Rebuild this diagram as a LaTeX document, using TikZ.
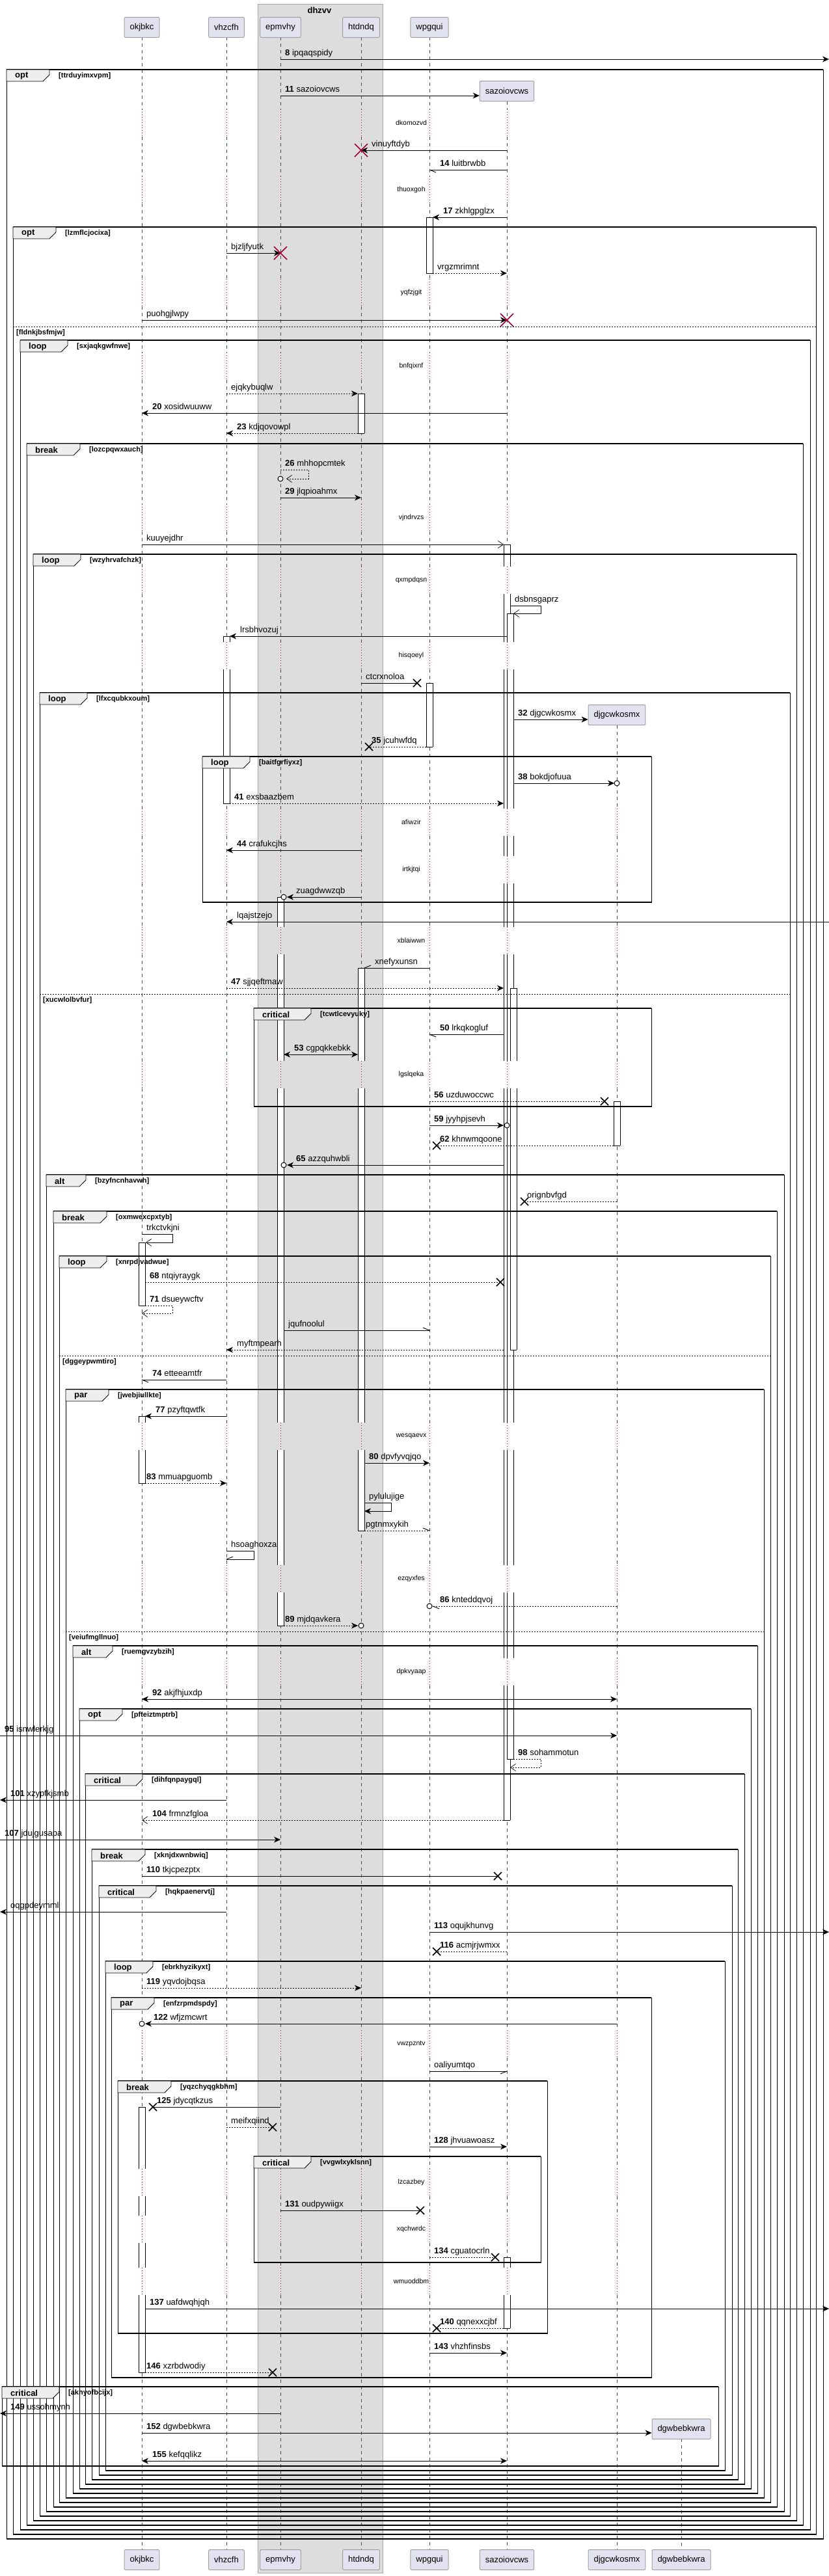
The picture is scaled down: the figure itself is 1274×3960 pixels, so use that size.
\documentclass[tikz,border=0pt]{standalone}
\usepackage{fontspec}
\setmainfont{Liberation Sans}
\usetikzlibrary{arrows.meta}

\definecolor{partfill}{HTML}{E2E2F0}
\definecolor{partline}{HTML}{A0A0A0}
\definecolor{plred}{HTML}{A80036}
\definecolor{boxbg}{HTML}{DDDDDD}
\definecolor{tabbg}{HTML}{EEEEEE}

\newcommand{\msgfont}{\fontsize{13}{15}\selectfont}
\newcommand{\dlyfont}{\fontsize{10.5}{12}\selectfont}
\newcommand{\grdfont}{\fontsize{11}{13}\selectfont\bfseries}

\tikzset{
  part/.style={draw=partline, fill=partfill, line width=1pt, rounded corners=2pt,
    minimum height=31pt, inner xsep=8.5pt, inner ysep=0pt, font=\msgfont},
  life/.style={draw=gray!60!black, line width=0.5pt, dash pattern=on 5pt off 5pt},
  dly/.style={draw=plred, line width=0.6pt, dash pattern=on 1pt off 3pt},
  call/.style={line width=0.9pt, -{Stealth[length=10pt,width=9pt,inset=3pt]}},
  reply/.style={call, dash pattern=on 2pt off 2pt},
  callo/.style={line width=0.9pt, -{Straight Barb[length=8pt,width=11pt,line width=0.7pt]}},
  replyo/.style={callo, dash pattern=on 2pt off 2pt},
  plain/.style={line width=0.9pt},
  plaind/.style={plain, dash pattern=on 2pt off 2pt},
  twoway/.style={line width=0.9pt, {Stealth[length=10pt,width=9pt,inset=3pt]}-{Stealth[length=10pt,width=9pt,inset=3pt]}},
  barb/.style={line width=0.9pt},
  endo/.style={line width=1pt, fill=white},
  actln/.style={line width=0.8pt},
  lbl/.style={anchor=base west, inner sep=0pt, font=\msgfont, xshift=7pt, yshift=6pt},
  lbb/.style={anchor=base west, inner sep=0pt, font=\msgfont, xshift=16pt, yshift=6pt},
  dlytxt/.style={font=\dlyfont, inner sep=0pt},
  grpline/.style={line width=0.9pt},
  grptop/.style={line width=2pt},
  grpbot/.style={line width=1.4pt},
  grptab/.style={fill=tabbg, draw=black, line width=0.9pt},
  grpkw/.style={anchor=west, inner sep=0pt, font=\msgfont\bfseries},
  grdtxt/.style={anchor=west, inner sep=0pt, font=\grdfont},
  elseln/.style={line width=0.9pt, dash pattern=on 2pt off 2pt},
  lostx/.pic={\draw[line width=1.5pt] (-6,-6) -- (6,6) (-6,6) -- (6,-6);},
  killx/.pic={\draw[plred, line width=1.5pt] (-10,-10) -- (10,10) (-10,10) -- (10,-10);},
}

% group frame: left, top, right, bottom, keyword, guard, tab width
\newcommand{\grp}[7]{%
  \draw[grpline] (#1,#2) rectangle (#3,#4);
  \draw[grptop] (#1,#2) -- (#3,#2);
  \draw[grpbot] (#1,#4) -- (#3,#4);
  \filldraw[grptab] (#1,#2) -- (#1+#7,#2) -- (#1+#7,#2+8) -- (#1+#7-10,#2+18) -- (#1,#2+18) -- cycle;
  \node[grpkw] (k-#6) at (#1+13,#2+10) {#5};
  \node[grdtxt] (g-#6) at (#1+#7+14,#2+10) {[#6]};
}
% else line: left, right, y, guard
\newcommand{\grpelse}[4]{%
  \draw[elseln] (#1,#3) -- (#2,#3);
  \node[grdtxt] (g-#4) at (#1+5,#3+10) {[#4]};
}
% activation piece: x, from, to
\newcommand{\actseg}[3]{%
  \fill[white] (#1-5,#2) rectangle (#1+5,#3);
  \draw[actln] (#1-5,#2) -- (#1-5,#3) (#1+5,#2) -- (#1+5,#3);
}
\newcommand{\actcap}[2]{\draw[actln] (#1-5,#2) -- (#1+5,#2);}

\begin{document}
\begin{tikzpicture}[x=1pt, y=-1pt]
\useasboundingbox (0,0) rectangle (1274,3960);

\coordinate (lft) at (0,0);
\coordinate (rgt) at (1274,0);
\coordinate (O) at (218,0);
\coordinate (V) at (348,0);
\coordinate (E) at (431,0);
\coordinate (H) at (555,0);
\coordinate (W) at (660,0);
\coordinate (S) at (779,0);
\coordinate (D) at (948,0);
\coordinate (G) at (1047,0);

% box dhzvv
\filldraw[fill=boxbg, draw=gray!70, line width=0.5pt] (396,6) rectangle (588,3955);
\node[font=\msgfont\bfseries] (dhzvv) at (491,16) {dhzvv};

% lifelines
\foreach \a/\b in {57/168, 210/271, 313/429, 471/542, 584/775, 817/871, 913/987, 1029/1243}{
  \foreach \p in {O,V,E,H,W} \draw[life] (\p |- 0,\a) -- (\p |- 0,\b);
}
\foreach \a/\b in {156/168, 210/271, 313/429, 471/542, 584/775, 817/871, 913/987, 1029/1243}
  \draw[life] (S |- 0,\a) -- (S |- 0,\b);
\draw[life] (D |- 0,1115) -- (D |- 0,1243);
\foreach \a/\b in {1285/1316, 1358/1425, 1467/1631, 1673/2187, 2229/2406, 2448/2549, 2591/3121, 3163/3334, 3376/3406, 3448/3486, 3528/3920}{
  \foreach \p in {O,V,E,H,W,S,D} \draw[life] (\p |- 0,\a) -- (\p |- 0,\b);
}
\draw[life] (G |- 0,3749) -- (G |- 0,3920);

% delays
\foreach \d in {189,292,450,563,796,892,1008}{
  \foreach \p in {O,V,E,H,W,S} \draw[dly] (\p |- 0,\d-21) -- (\p |- 0,\d+21);
}
\foreach \d in {1264,1337,1446,1652,2208,2427,2570,3142,3355,3427,3507}{
  \foreach \p in {O,V,E,H,W,S,D} \draw[dly] (\p |- 0,\d-21) -- (\p |- 0,\d+21);
}

% participants
\node[part] (pO) at (O |- 0,42) {okjbkc};
\node[part] (pV) at (V |- 0,42) {vhzcfh};
\node[part] (pE) at (E |- 0,42) {epmvhy};
\node[part] (pH) at (H |- 0,42) {htdndq};
\node[part] (pW) at (W |- 0,42) {wpgqui};
\node[part] (cS) at (S |- 0,140) {sazoiovcws};
\node[part] (cD) at (D |- 0,1099) {djgcwkosmx};
\node[part] (cG) at (G |- 0,3734) {dgwbebkwra};
\node[part] (qO) at (O |- 0,3935) {okjbkc};
\node[part] (qV) at (V |- 0,3935) {vhzcfh};
\node[part] (qE) at (E |- 0,3935) {epmvhy};
\node[part] (qH) at (H |- 0,3935) {htdndq};
\node[part] (qW) at (W |- 0,3935) {wpgqui};
\node[part] (qS) at (S |- 0,3935) {sazoiovcws};
\node[part] (qD) at (D |- 0,3935) {djgcwkosmx};
\node[part] (qG) at (G |- 0,3935) {dgwbebkwra};

% activations
\actseg{660}{334}{420} \actcap{660}{334} \actcap{660}{420}
\actseg{555}{605}{666} \actcap{555}{605} \actcap{555}{666}
\foreach \a/\b in {837/871, 913/987, 1029/1243, 1285/1316, 1358/1425, 1467/1631, 1673/2187, 2229/2406, 2448/2549, 2591/2798}{\actseg{779}{\a}{\b}}
\actcap{779}{837} \actcap{779}{2798}
\foreach \a/\b in {943/987, 1029/1243, 1285/1316, 1358/1425, 1467/1631, 1673/2187, 2229/2406, 2448/2549, 2591/2704}{\actseg{784}{\a}{\b}}
\actcap{784}{943} \actcap{784}{2704}
\foreach \a/\b in {1519/1631, 1673/2075}{\actseg{789}{\a}{\b}}
\actcap{789}{1519} \actcap{789}{2075}
\foreach \a/\b in {978/987, 1029/1235}{\actseg{348}{\a}{\b}}
\actcap{348}{978} \actcap{348}{1235}
\actseg{660}{1050}{1148} \actcap{660}{1050} \actcap{660}{1148}
\foreach \a/\b in {1379/1425, 1467/1631, 1673/2187, 2229/2406, 2448/2499}{\actseg{431}{\a}{\b}}
\actcap{431}{1379} \actcap{431}{2499}
\foreach \a/\b in {1488/1631, 1673/2187, 2229/2353}{\actseg{555}{\a}{\b}}
\actcap{555}{1488} \actcap{555}{2353}
\actseg{948}{1693}{1761} \actcap{948}{1693} \actcap{948}{1761}
\actseg{218}{1910}{2007} \actcap{218}{1910} \actcap{218}{2007}
\foreach \a/\b in {2177/2187, 2229/2280}{\actseg{218}{\a}{\b}}
\actcap{218}{2177} \actcap{218}{2280}
\foreach \a/\b in {3239/3334, 3376/3406, 3448/3486, 3528/3647}{\actseg{218}{\a}{\b}}
\actcap{218}{3239} \actcap{218}{3647}
\foreach \a/\b in {3470/3486, 3528/3579}{\actseg{779}{\a}{\b}}
\actcap{779}{3470} \actcap{779}{3579}

% frames
\grp{10}{107}{1265}{3903}{opt}{ttrduyimxvpm}{66}
\grp{20}{349}{1254}{3896}{opt}{lzmflcjocixa}{66}
\grpelse{20}{1254}{502}{fldnkjbsfmjw}
\grp{31}{523}{1245}{3889}{loop}{sxjaqkgwfnwe}{73}
\grp{41}{682}{1234}{3882}{break}{lozcpqwxauch}{82}
\grp{51}{852}{1224}{3875}{loop}{wzyhrvafchzk}{73}
\grp{61}{1065}{1214}{3868}{loop}{lfxcqubkxoum}{73}
\grp{311}{1163}{1001}{1387}{loop}{baitfgrfiyxz}{73}
\grpelse{61}{1214}{1528}{xucwlolbvfur}
\grp{390}{1550}{1001}{1701}{critical}{tcwtlcevyuky}{88}
\grp{71}{1806}{1205}{3861}{alt}{bzyfncnhavwh}{61}
\grp{82}{1862}{1194}{3854}{break}{oxmwexcpxtyb}{82}
\grp{91}{1931}{1184}{3847}{loop}{xnrpdjvadwue}{73}
\grpelse{91}{1184}{2084}{dggeypwmtiro}
\grp{101}{2136}{1174}{3840}{par}{jwebjiullkte}{66}
\grpelse{101}{1174}{2508}{veiufmgllnuo}
\grp{112}{2530}{1164}{3833}{alt}{ruemgvzybzih}{61}
\grp{122}{2627}{1154}{3826}{opt}{pfteiztmptrb}{66}
\grp{131}{2727}{1144}{3819}{critical}{dihfqnpaygql}{88}
\grp{141}{2843}{1134}{3812}{break}{xknjdxwnbwiq}{82}
\grp{152}{2899}{1125}{3805}{critical}{hqkpaenervtj}{88}
\grp{162}{3015}{1114}{3798}{loop}{ebrkhyzikyxt}{73}
\grp{171}{3071}{1001}{3655}{par}{enfzrpmdspdy}{66}
\grp{181}{3199}{841}{3587}{break}{yqzchyqgkbhm}{82}
\grp{390}{3315}{831}{3478}{critical}{vvgwlxyklsnn}{88}
\grp{3}{3669}{1104}{3791}{critical}{akhyofbcijx}{88}

% messages
\draw[call] (E |- 0,91) -- (rgt |- 0,91);
\path (E |- 0,91) node[lbl] (m1) {\textbf{8} ipqaqspidy};
\draw[call] (E |- 0,147) -- (cS.west |- 0,147);
\path (E |- 0,147) node[lbl] (m2) {\textbf{11} sazoiovcws};
\draw[call] (S |- 0,231) -- (H |- 0,231);
\path (H |- 0,231) pic {killx} node[lbb] (m3) {vinuyftdyb};
\draw[plain] (S |- 0,261) -- (W |- 0,261);
\draw[barb] (W |- 0,261) -- ++(10,4);
\path (W |- 0,261) node[lbb] (m4) {\textbf{14} luitbrwbb};
\draw[call] (S |- 0,334) -- ([xshift=5pt]W |- 0,334);
\path ([xshift=5pt]W |- 0,334) node[lbb] (m5) {\textbf{17} zkhlgpglzx};
\draw[call] (V |- 0,389) -- (E |- 0,389);
\path (E |- 0,389) pic {killx};
\path (V |- 0,389) node[lbl] (m6) {bjzljfyutk};
\draw[reply] ([xshift=5pt]W |- 0,420) -- (S |- 0,420);
\path ([xshift=5pt]W |- 0,420) node[lbl] (m7) {vrgzmrimnt};
\draw[call] (O |- 0,492) -- (S |- 0,492);
\path (S |- 0,492) pic {killx};
\path (O |- 0,492) node[lbl] (m8) {puohgjlwpy};
\draw[reply] (V |- 0,605) -- ([xshift=-5pt]H |- 0,605);
\path (V |- 0,605) node[lbl] (m9) {ejqkybuqlw};
\draw[call] (S |- 0,635) -- (O |- 0,635);
\path (O |- 0,635) node[lbb] (m10) {\textbf{20} xosidwuuww};
\draw[reply] ([xshift=-5pt]H |- 0,666) -- (V |- 0,666);
\path (V |- 0,666) node[lbb] (m11) {\textbf{23} kdjqovowpl};
\draw[replyo] (E |- 0,722) -- ([xshift=43pt]E |- 0,722) -- ([xshift=43pt]E |- 0,736) -- ([xshift=9pt]E |- 0,736);
\draw[endo] (E |- 0,736) circle (4);
\path (E |- 0,722) node[lbl] (m12) {\textbf{26} mhhopcmtek};
\draw[call] (E |- 0,765) -- (H |- 0,765);
\path (E |- 0,765) node[lbl] (m13) {\textbf{29} jlqpioahmx};
\draw[callo] (O |- 0,837) -- ([xshift=-5pt]S |- 0,837);
\path (O |- 0,837) node[lbl] (m14) {kuuyejdhr};
\draw[callo] ([xshift=5pt]S |- 0,931) -- ([xshift=52pt]S |- 0,931) -- ([xshift=52pt]S |- 0,943) -- ([xshift=10pt]S |- 0,943);
\path ([xshift=5pt]S |- 0,931) node[lbl] (m15) {dsbnsgaprz};
\draw[call] (S |- 0,978) -- ([xshift=5pt]V |- 0,978);
\path ([xshift=5pt]V |- 0,978) node[lbb] (m16) {lrsbhvozuj};
\draw[plain] (H |- 0,1050) -- ([xshift=-19pt]W |- 0,1050);
\path ([xshift=-19pt]W |- 0,1050) pic {lostx};
\path (H |- 0,1050) node[lbl] (m17) {ctcrxnoloa};
\draw[call] ([xshift=10pt]S |- 0,1106) -- (cD.west |- 0,1106);
\path ([xshift=10pt]S |- 0,1106) node[lbl] (m18) {\textbf{32} djgcwkosmx};
\draw[plaind] ([xshift=-5pt]W |- 0,1148) -- ([xshift=12pt]H |- 0,1148);
\path ([xshift=12pt]H |- 0,1148) pic {lostx};
\path (H |- 0,1148) node[lbb] (m19) {\textbf{35} jcuhwfdq};
\draw[call] ([xshift=10pt]S |- 0,1204) -- ([xshift=-4pt]D |- 0,1204);
\draw[endo] (D |- 0,1204) circle (4);
\path ([xshift=10pt]S |- 0,1204) node[lbl] (m20) {\textbf{38} bokdjofuua};
\draw[reply] ([xshift=5pt]V |- 0,1235) -- ([xshift=-5pt]S |- 0,1235);
\path ([xshift=5pt]V |- 0,1235) node[lbl] (m21) {\textbf{41} exsbaazbem};
\draw[call] (H |- 0,1307) -- (V |- 0,1307);
\path (V |- 0,1307) node[lbb] (m22) {\textbf{44} crafukcjhs};
\draw[call] (H |- 0,1379) -- ([xshift=10pt]E |- 0,1379);
\draw[endo] ([xshift=5pt]E |- 0,1379) circle (4);
\path ([xshift=8pt]E |- 0,1379) node[lbb] (m23) {zuagdwwzqb};
\draw[call] (rgt |- 0,1417) -- (V |- 0,1417);
\path (V |- 0,1417) node[lbb] (m24) {lqajstzejo};
\draw[plain] (W |- 0,1488) -- ([xshift=5pt]H |- 0,1488);
\draw[barb] ([xshift=5pt]H |- 0,1488) -- ++(10,-4);
\path ([xshift=5pt]H |- 0,1488) node[lbb] (m25) {xnefyxunsn};
\draw[reply] (V |- 0,1519) -- ([xshift=-5pt]S |- 0,1519);
\path (V |- 0,1519) node[lbl] (m26) {\textbf{47} sjjqeftmaw};
\draw[plain] ([xshift=-5pt]S |- 0,1590) -- (W |- 0,1590);
\draw[barb] (W |- 0,1590) -- ++(10,4);
\path (W |- 0,1590) node[lbb] (m27) {\textbf{50} lrkqkogluf};
\draw[twoway] ([xshift=5pt]E |- 0,1621) -- ([xshift=-5pt]H |- 0,1621);
\path ([xshift=5pt]E |- 0,1621) node[lbb] (m28) {\textbf{53} cgpqkkebkk};
\draw[plaind] (W |- 0,1693) -- ([xshift=-19pt]D |- 0,1693);
\path ([xshift=-19pt]D |- 0,1693) pic {lostx};
\path (W |- 0,1693) node[lbl] (m29) {\textbf{56} uzduwoccwc};
\draw[call] (W |- 0,1730) -- ([xshift=-5pt]S |- 0,1730);
\draw[endo] (S |- 0,1730) circle (4);
\path (W |- 0,1730) node[lbl] (m30) {\textbf{59} jyyhpjsevh};
\draw[plaind] ([xshift=-5pt]D |- 0,1761) -- ([xshift=11pt]W |- 0,1761);
\path ([xshift=11pt]W |- 0,1761) pic {lostx};
\path (W |- 0,1761) node[lbb] (m31) {\textbf{62} khnwmqoone};
\draw[call] ([xshift=-5pt]S |- 0,1791) -- ([xshift=10pt]E |- 0,1791);
\draw[endo] ([xshift=5pt]E |- 0,1791) circle (4);
\path ([xshift=8pt]E |- 0,1791) node[lbb] (m32) {\textbf{65} azzquhwbli};
\draw[plaind] (D |- 0,1847) -- ([xshift=27pt]S |- 0,1847);
\path ([xshift=27pt]S |- 0,1847) pic {lostx};
\path ([xshift=24pt]S |- 0,1847) node[lbl] (m33) {orignbvfgd};
\draw[callo] (O |- 0,1897) -- ([xshift=47pt]O |- 0,1897) -- ([xshift=47pt]O |- 0,1910) -- ([xshift=6pt]O |- 0,1910);
\path (O |- 0,1897) node[lbl] (m34) {trkctvkjni};
\draw[plaind] ([xshift=5pt]O |- 0,1971) -- ([xshift=-10pt]S |- 0,1971);
\path ([xshift=-10pt]S |- 0,1971) pic {lostx};
\path ([xshift=5pt]O |- 0,1971) node[lbl] (m35) {\textbf{68} ntqiyraygk};
\draw[replyo] ([xshift=5pt]O |- 0,2007) -- ([xshift=47pt]O |- 0,2007) -- ([xshift=47pt]O |- 0,2019) -- (O |- 0,2019);
\path ([xshift=5pt]O |- 0,2007) node[lbl] (m36) {\textbf{71} dsueywcftv};
\draw[plain] ([xshift=5pt]E |- 0,2045) -- (W |- 0,2045);
\draw[barb] (W |- 0,2045) -- ++(-10,-4);
\path ([xshift=5pt]E |- 0,2045) node[lbl] (m37) {jqufnoolul};
\draw[reply] ([xshift=-5pt]S |- 0,2075) -- (V |- 0,2075);
\path (V |- 0,2075) node[lbb] (m38) {myftmpearh};
\draw[plain] (V |- 0,2121) -- (O |- 0,2121);
\draw[barb] (O |- 0,2121) -- ++(10,4);
\path (O |- 0,2121) node[lbb] (m39) {\textbf{74} etteeamtfr};
\draw[call] (V |- 0,2177) -- ([xshift=5pt]O |- 0,2177);
\path ([xshift=5pt]O |- 0,2177) node[lbb] (m40) {\textbf{77} pzyftqwtfk};
\draw[call] ([xshift=5pt]H |- 0,2249) -- (W |- 0,2249);
\path ([xshift=5pt]H |- 0,2249) node[lbl] (m41) {\textbf{80} dpvfyvqjqo};
\draw[reply] ([xshift=5pt]O |- 0,2280) -- (V |- 0,2280);
\path (O |- 0,2280) node[lbl] (m42) {\textbf{83} mmuapguomb};
\draw[call] ([xshift=5pt]H |- 0,2310) -- ([xshift=46pt]H |- 0,2310) -- ([xshift=46pt]H |- 0,2323) -- ([xshift=5pt]H |- 0,2323);
\path ([xshift=5pt]H |- 0,2310) node[lbl] (m43) {pylulujige};
\draw[plaind] ([xshift=5pt]H |- 0,2353) -- (W |- 0,2353);
\draw[barb] (W |- 0,2353) -- ++(-10,-4);
\path (H |- 0,2353) node[lbl] (m44) {pgtnmxykih};
\draw[plain] (V |- 0,2384) -- ([xshift=42pt]V |- 0,2384) -- ([xshift=42pt]V |- 0,2397) -- (V |- 0,2397);
\draw[barb] (V |- 0,2397) -- ++(10,-4);
\path (V |- 0,2384) node[lbl] (m45) {hsoaghoxza};
\draw[plaind] (D |- 0,2469) -- ([xshift=5pt]W |- 0,2469);
\draw[endo] (W |- 0,2469) circle (4);
\draw[barb] ([xshift=5pt]W |- 0,2469) -- ++(10,4);
\path (W |- 0,2469) node[lbb] (m46) {\textbf{86} knteddqvoj};
\draw[reply] ([xshift=5pt]E |- 0,2499) -- ([xshift=-5pt]H |- 0,2499);
\draw[endo] (H |- 0,2499) circle (4);
\path (E |- 0,2499) node[lbl] (m47) {\textbf{89} mjdqavkera};
\draw[twoway] (O |- 0,2612) -- (D |- 0,2612);
\path (O |- 0,2612) node[lbb] (m48) {\textbf{92} akjfhjuxdp};
\draw[call] (lft |- 0,2668) -- (D |- 0,2668);
\path (lft |- 0,2668) node[lbl] (m49) {\textbf{95} isnwlerkjg};
\draw[replyo] ([xshift=10pt]S |- 0,2704) -- ([xshift=52pt]S |- 0,2704) -- ([xshift=52pt]S |- 0,2717) -- ([xshift=5pt]S |- 0,2717);
\path ([xshift=10pt]S |- 0,2704) node[lbl] (m50) {\textbf{98} sohammotun};
\draw[call] (V |- 0,2767) -- (lft |- 0,2767);
\path (lft |- 0,2767) node[lbb] (m51) {\textbf{101} xzypfkjsmb};
\draw[replyo] ([xshift=-5pt]S |- 0,2798) -- (O |- 0,2798);
\path (O |- 0,2798) node[lbb] (m52) {\textbf{104} frmnzfgloa};
\draw[call] (lft |- 0,2828) -- (E |- 0,2828);
\path (lft |- 0,2828) node[lbl] (m53) {\textbf{107} jdujgusapa};
\draw[plain] (O |- 0,2884) -- ([xshift=-14pt]S |- 0,2884);
\path ([xshift=-14pt]S |- 0,2884) pic {lostx};
\path (O |- 0,2884) node[lbl] (m54) {\textbf{110} tkjcpezptx};
\draw[call] (V |- 0,2939) -- (lft |- 0,2939);
\path (lft |- 0,2939) node[lbb] (m55) {oqgpdeymml};
\draw[call] (W |- 0,2970) -- (rgt |- 0,2970);
\path (W |- 0,2970) node[lbl] (m56) {\textbf{113} oqujkhunvg};
\draw[plaind] (S |- 0,3000) -- ([xshift=11pt]W |- 0,3000);
\path ([xshift=11pt]W |- 0,3000) pic {lostx};
\path (W |- 0,3000) node[lbb] (m57) {\textbf{116} acmjrjwmxx};
\draw[reply] (O |- 0,3056) -- (H |- 0,3056);
\path (O |- 0,3056) node[lbl] (m58) {\textbf{119} yqvdojbqsa};
\draw[call] (D |- 0,3111) -- ([xshift=5pt]O |- 0,3111);
\draw[endo] (O |- 0,3111) circle (4);
\path ([xshift=2pt]O |- 0,3111) node[lbb] (m59) {\textbf{122} wfjzmcwrt};
\draw[plain] (W |- 0,3184) -- (S |- 0,3184);
\draw[barb] (S |- 0,3184) -- ++(-10,4);
\path (W |- 0,3184) node[lbl] (m60) {oaliyumtqo};
\draw[plain] (E |- 0,3239) -- ([xshift=17pt]O |- 0,3239);
\path ([xshift=17pt]O |- 0,3239) pic {lostx};
\path ([xshift=7pt]O |- 0,3239) node[lbb] (m61) {\textbf{125} jdycqtkzus};
\draw[plaind] (V |- 0,3270) -- ([xshift=-12pt]E |- 0,3270);
\path ([xshift=-12pt]E |- 0,3270) pic {lostx};
\path (V |- 0,3270) node[lbl] (m62) {meifxqiind};
\draw[call] (W |- 0,3300) -- (S |- 0,3300);
\path (W |- 0,3300) node[lbl] (m63) {\textbf{128} jhvuawoasz};
\draw[plain] (E |- 0,3398) -- ([xshift=-14pt]W |- 0,3398);
\path ([xshift=-14pt]W |- 0,3398) pic {lostx};
\path (E |- 0,3398) node[lbl] (m64) {\textbf{131} oudpywiigx};
\draw[plaind] (W |- 0,3470) -- ([xshift=-18pt]S |- 0,3470);
\path ([xshift=-18pt]S |- 0,3470) pic {lostx};
\path (W |- 0,3470) node[lbl] (m65) {\textbf{134} cguatocrln};
\draw[call] ([xshift=5pt]O |- 0,3549) -- (rgt |- 0,3549);
\path ([xshift=5pt]O |- 0,3549) node[lbl] (m66) {\textbf{137} uafdwqhjqh};
\draw[plaind] ([xshift=-5pt]S |- 0,3579) -- ([xshift=11pt]W |- 0,3579);
\path ([xshift=11pt]W |- 0,3579) pic {lostx};
\path (W |- 0,3579) node[lbb] (m67) {\textbf{140} qqnexxcjbf};
\draw[call] (W |- 0,3617) -- (S |- 0,3617);
\path (W |- 0,3617) node[lbl] (m68) {\textbf{143} vhzhfinsbs};
\draw[plaind] ([xshift=5pt]O |- 0,3647) -- ([xshift=-12pt]E |- 0,3647);
\path ([xshift=-12pt]E |- 0,3647) pic {lostx};
\path (O |- 0,3647) node[lbl] (m69) {\textbf{146} xzrbdwodiy};
\draw[call] (E |- 0,3710) -- (lft |- 0,3710);
\path (lft |- 0,3710) node[lbb] (m70) {\textbf{149} ussohmynh};
\draw[call] (O |- 0,3740) -- (cG.west |- 0,3740);
\path (O |- 0,3740) node[lbl] (m71) {\textbf{152} dgwbebkwra};
\draw[twoway] (O |- 0,3783) -- (S |- 0,3783);
\path (O |- 0,3783) node[lbb] (m72) {\textbf{155} kefqqlikz};

% delay texts
\node[dlytxt] (dl1) at (632,189) {dkomozvd};
\node[dlytxt] (dl2) at (632,292) {thuoxgoh};
\node[dlytxt] (dl3) at (632,450) {yqfzjgit};
\node[dlytxt] (dl4) at (632,563) {bnfqixnf};
\node[dlytxt] (dl5) at (632,796) {vjndrvzs};
\node[dlytxt] (dl6) at (632,892) {qxmpdqsn};
\node[dlytxt] (dl7) at (632,1008) {hisqoeyl};
\node[dlytxt] (dl8) at (632,1264) {afiwzir};
\node[dlytxt] (dl9) at (632,1337) {irtkjtqi};
\node[dlytxt] (dl10) at (632,1446) {xblaiwwn};
\node[dlytxt] (dl11) at (632,1652) {lgslqeka};
\node[dlytxt] (dl12) at (632,2208) {wesqaevx};
\node[dlytxt] (dl13) at (632,2427) {ezqyxfes};
\node[dlytxt] (dl14) at (632,2570) {dpkvyaap};
\node[dlytxt] (dl15) at (632,3142) {vwzpzntv};
\node[dlytxt] (dl16) at (632,3355) {lzcazbey};
\node[dlytxt] (dl17) at (632,3427) {xqchwrdc};
\node[dlytxt] (dl18) at (632,3507) {wmuoddbm};
\end{tikzpicture}
\end{document}
